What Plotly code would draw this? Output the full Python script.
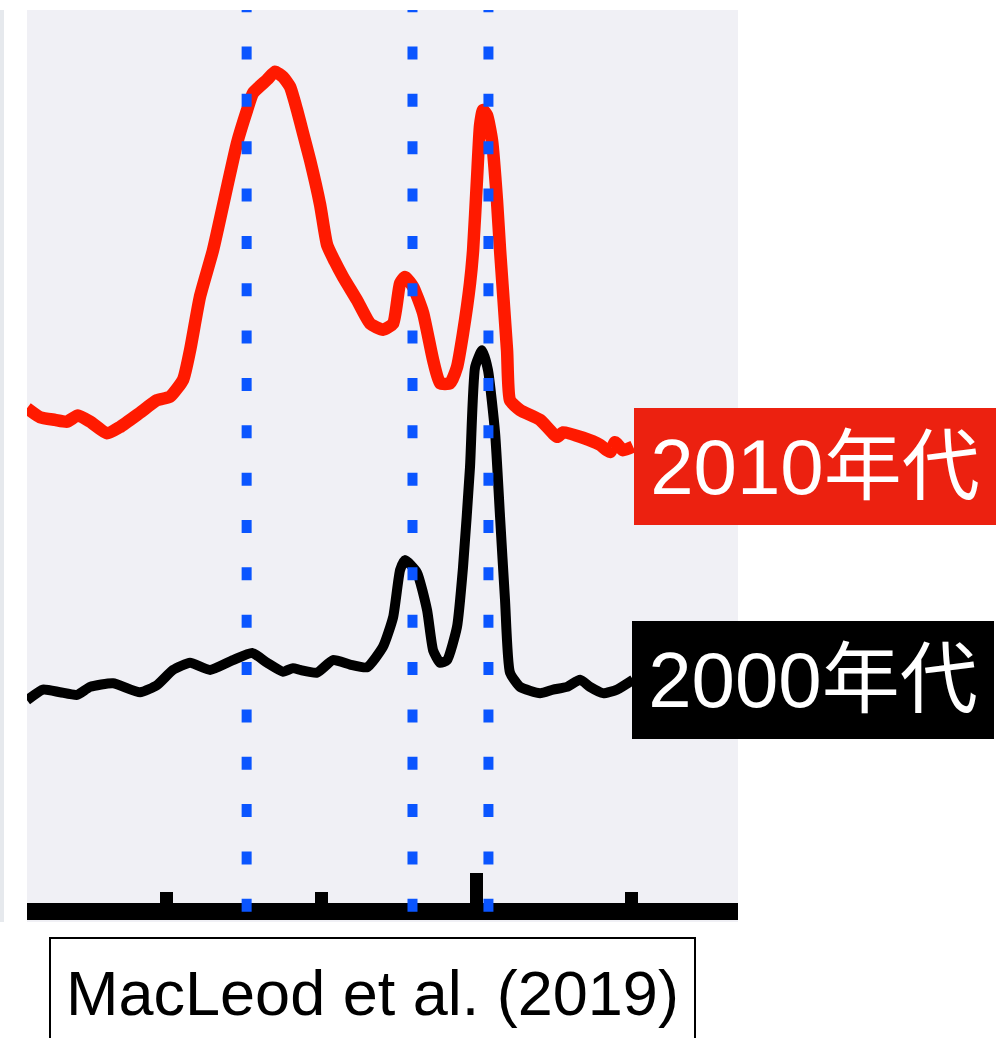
import plotly.graph_objects as go

# ---- data (rest-frame wavelength in Angstrom, relative flux) ----
wave_2010 = [4710.3, 4718.7, 4728.4, 4736.1, 4743.2, 4751.0, 4761.9, 4770.3, 4783.2, 4794.2,
             4802.6, 4811.0, 4815.5, 4821.9, 4830.3, 4839.4, 4845.8, 4852.3, 4856.1, 4865.2,
             4870.3, 4875.5, 4880.0, 4884.5, 4888.4, 4892.9, 4899.4, 4903.9, 4909.0, 4914.2,
             4923.2, 4931.6, 4940.0, 4946.5, 4951.0, 4954.2, 4959.4, 4965.8, 4972.3, 4976.8,
             4983.2, 4987.7, 4991.6, 4996.1, 4998.1, 5000.6, 5002.6, 5004.5, 5007.1, 5010.3,
             5013.5, 5015.5, 5020.0, 5021.9, 5028.4, 5041.3, 5052.3, 5056.1, 5069.0, 5080.0,
             5086.5, 5089.7, 5094.8, 5101.3]
flux_2010 = [5.54, 5.44, 5.41, 5.39, 5.46, 5.39, 5.26, 5.33, 5.49, 5.63,
             5.67, 5.86, 6.19, 6.79, 7.31, 8.02, 8.51, 8.88, 9.07, 9.22,
             9.31, 9.25, 9.14, 8.88, 8.62, 8.32, 7.82, 7.37, 7.18, 7.01,
             6.75, 6.49, 6.42, 6.49, 6.94, 7.01, 6.90, 6.61, 6.08, 5.82,
             5.82, 6.00, 6.38, 6.94, 7.31, 8.10, 8.71, 8.88, 8.82, 8.54,
             7.87, 7.31, 6.19, 5.63, 5.52, 5.41, 5.22, 5.27, 5.21, 5.13,
             5.05, 5.16, 5.07, 5.11]

wave_2000 = [4710.3, 4720.6, 4731.6, 4742.6, 4751.0, 4765.8, 4783.2, 4794.2, 4804.5, 4815.5,
             4828.4, 4843.2, 4855.5, 4865.2, 4875.5, 4881.9, 4886.5, 4897.4, 4907.7, 4918.7,
             4929.7, 4940.0, 4946.5, 4951.0, 4954.2, 4961.9, 4968.4, 4972.3, 4976.8, 4981.3,
             4987.7, 4991.6, 4996.1, 4999.4, 5003.9, 5007.7, 5012.3, 5015.5, 5018.7, 5021.9,
             5028.4, 5041.3, 5049.7, 5058.7, 5067.1, 5073.5, 5081.9, 5091.0, 5101.3]
flux_2000 = [2.27, 2.39, 2.36, 2.33, 2.42, 2.46, 2.36, 2.44, 2.61, 2.69,
             2.61, 2.72, 2.80, 2.69, 2.59, 2.63, 2.61, 2.58, 2.72, 2.67,
             2.64, 2.87, 3.20, 3.73, 3.84, 3.70, 3.28, 2.83, 2.69, 2.72,
             3.09, 3.76, 4.88, 6.00, 6.19, 5.97, 5.26, 4.32, 3.39, 2.58,
             2.42, 2.35, 2.39, 2.42, 2.50, 2.42, 2.35, 2.39, 2.50]

line_waves = [4852, 4959, 5008]          # dotted reference lines
major_ticks = [5000]
minor_ticks = [4800, 4900, 5100]
series_labels = ["2010年代", "2000年代"]
caption = "MacLeod et al. (2019)"

# ---- styling ----
W, H = 1002, 1038
L, R, T, B = 27, 264, 10, 135
PW, PH = W - L - R, H - T - B
BG = "#f0f0f5"
RED_LINE = "#ff1a00"
RED_BOX = "#ec2110"
BLUE = "#0a55ff"
FONT = "Liberation Sans, Arial, Helvetica, Noto Sans CJK JP, sans-serif"

def px_x(p):
    return (p - L) / PW

def px_y(p):
    return (H - B - p) / PH

fig = go.Figure()
fig.add_trace(go.Scatter(x=wave_2000, y=flux_2000, mode="lines",
                         line=dict(color="black", width=10, shape="spline", smoothing=0.5),
                         hoverinfo="skip"))
fig.add_trace(go.Scatter(x=wave_2010, y=flux_2010, mode="lines",
                         line=dict(color=RED_LINE, width=12.5, shape="spline", smoothing=0.5),
                         hoverinfo="skip"))

shapes = []
# background strip under axis bar and thin left strip
shapes.append(dict(type="rect", xref="paper", yref="paper", x0=0, x1=1,
                   y0=px_y(922), y1=0, fillcolor=BG, line=dict(width=0), layer="below"))
shapes.append(dict(type="rect", xref="paper", yref="paper", x0=px_x(0), x1=px_x(4),
                   y0=px_y(922), y1=1, fillcolor="#e6e9ed", line=dict(width=0), layer="below"))
for w in line_waves:
    shapes.append(dict(type="line", xref="x", yref="paper", x0=w, x1=w,
                       y0=px_y(-0.85), y1=px_y(921),
                       line=dict(color=BLUE, width=10, dash="13px,34.35px"), layer="above"))
# white cover above plot area
shapes.append(dict(type="rect", xref="paper", yref="paper", x0=px_x(0), x1=px_x(W),
                   y0=1, y1=px_y(-5), fillcolor="white", line=dict(width=0), layer="above"))
# caption box
shapes.append(dict(type="rect", xref="paper", yref="paper", x0=px_x(50), x1=px_x(695),
                   y0=px_y(1060), y1=px_y(938), fillcolor="white",
                   line=dict(color="black", width=2), layer="above"))

annotations = [
    dict(text=series_labels[0], xref="paper", yref="paper", x=px_x(634), y=px_y(466),
         xanchor="left", yanchor="middle", showarrow=False, width=362, height=117,
         bgcolor=RED_BOX, borderpad=0, borderwidth=0, align="center",
         font=dict(family=FONT, size=78, color="white")),
    dict(text=series_labels[1], xref="paper", yref="paper", x=px_x(632), y=px_y(680),
         xanchor="left", yanchor="middle", showarrow=False, width=362, height=118,
         bgcolor="black", borderpad=0, borderwidth=0, align="center",
         font=dict(family=FONT, size=78, color="white")),
    dict(text=caption, xref="paper", yref="paper", x=px_x(372), y=px_y(993),
         xanchor="center", yanchor="middle", showarrow=False,
         font=dict(family=FONT, size=63, color="black")),
]

fig.update_layout(
    width=W, height=H, margin=dict(l=L, r=R, t=T, b=B, pad=0),
    paper_bgcolor="white", plot_bgcolor=BG, showlegend=False,
    shapes=shapes, annotations=annotations,
    xaxis=dict(range=[4710.3, 5169.0], showline=True, linewidth=17, linecolor="black",
               ticks="inside", tickmode="array", tickvals=major_ticks, ticklen=30,
               tickwidth=13, tickcolor="black", showticklabels=False, showgrid=False,
               zeroline=False,
               minor=dict(tickmode="array", tickvals=minor_ticks, ticks="inside",
                          ticklen=11, tickwidth=13, tickcolor="black", showgrid=False)),
    yaxis=dict(range=[0, 10], visible=False, showgrid=False, zeroline=False),
)

fig.write_html("out.html")
